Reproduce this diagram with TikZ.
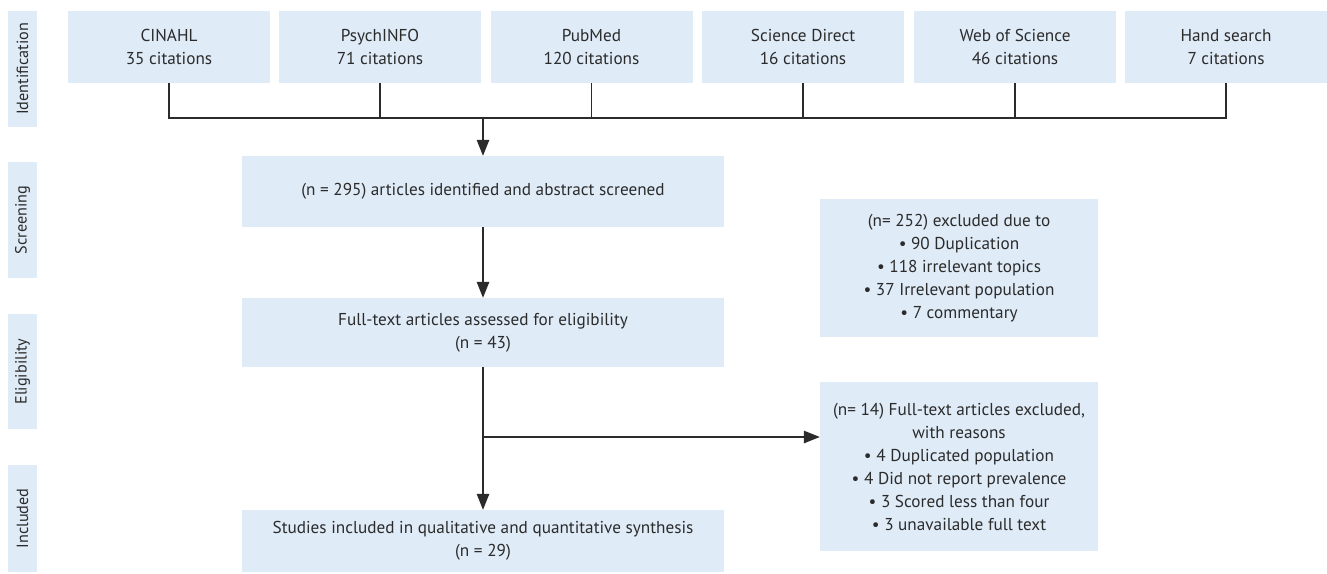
\documentclass[tikz,border=0pt]{standalone}
\usepackage{fontspec}
\setmainfont{PT Sans}
\usetikzlibrary{arrows.meta}
\definecolor{boxfill}{HTML}{DFEBF7}
\definecolor{ink}{HTML}{2B2B2B}
\tikzset{
  box/.style={fill=boxfill, draw=none, inner sep=0pt, align=center, text=ink,
    font=\fontsize{17.2}{23}\selectfont},
  topbox/.style={box, minimum width=202pt, minimum height=72pt},
  phase/.style={fill=boxfill, draw=none, inner sep=0pt, minimum width=29pt, text=ink,
    font=\fontsize{16.2}{18}\selectfont},
  conn/.style={draw=ink, line width=1.3pt},
  arr/.style={conn, -{Triangle[length=16pt,width=12.5pt]}},
}
\begin{document}
\begin{tikzpicture}[x=1pt,y=-1pt]
\useasboundingbox (0,0) rectangle (1327,573);
% phase labels
\node[phase, minimum height=116pt] (pid) at (22.5,69) {\rotatebox{90}{Identification}};
\node[phase, minimum height=116pt] (psc) at (22.5,220) {\rotatebox{90}{Screening}};
\node[phase, minimum height=115pt] (pel) at (22.5,371.5) {\rotatebox{90}{Eligibility}};
\node[phase, minimum height=107pt] (pin) at (22.5,518.5) {\rotatebox{90}{Included}};
% sources
\node[topbox] (cinahl) at (169,47) {CINAHL\\35 citations};
\node[topbox] (psych) at (380,47) {PsychINFO\\71 citations};
\node[topbox] (pubmed) at (591.5,47) {PubMed\\120 citations};
\node[topbox] (sd) at (803,47) {Science Direct\\16 citations};
\node[topbox] (wos) at (1015,47) {Web of Science\\46 citations};
\node[topbox] (hand) at (1226,47) {Hand search\\7 citations};
% main flow
\node[box, minimum width=482pt, minimum height=71pt] (screen) at (483,191.5) {(n = 295) articles identified and abstract screened};
\node[box, minimum width=482pt, minimum height=69pt] (elig) at (483,332.5) {Full-text articles assessed for eligibility\\(n = 43)};
\node[box, minimum width=482pt, minimum height=62pt] (incl) at (483,541) {Studies included in qualitative and quantitative synthesis\\(n = 29)};
% exclusions
\node[box, minimum width=278pt, minimum height=138pt] (ex1) at (959,268) {(n= 252) excluded due to\\\textbullet\ 90 Duplication\\\textbullet\ 118 irrelevant topics\\\textbullet\ 37 Irrelevant population\\\textbullet\ 7 commentary};
\node[box, minimum width=278pt, minimum height=169pt] (ex2) at (959,466.5) {(n= 14) Full-text articles excluded,\\with reasons\\\textbullet\ 4 Duplicated population\\\textbullet\ 4 Did not report prevalence\\\textbullet\ 3 Scored less than four\\\textbullet\ 3 unavailable full text};
% connectors
\coordinate (bus) at (0,118);
\coordinate (branch) at (483,437);
\draw[conn] (cinahl.south) -- (cinahl.south |- bus) -- (hand.south |- bus) -- (hand.south);
\foreach \n in {psych,pubmed,sd,wos}{\draw[conn] (\n.south) -- (\n.south |- bus);}
\draw[arr] (screen.north |- bus) -- (screen.north);
\draw[arr] (screen.south) -- (elig.north);
\draw[arr] (elig.south) -- (incl.north);
\draw[arr] (branch) -- (branch -| ex2.west);
\end{tikzpicture}
\end{document}
